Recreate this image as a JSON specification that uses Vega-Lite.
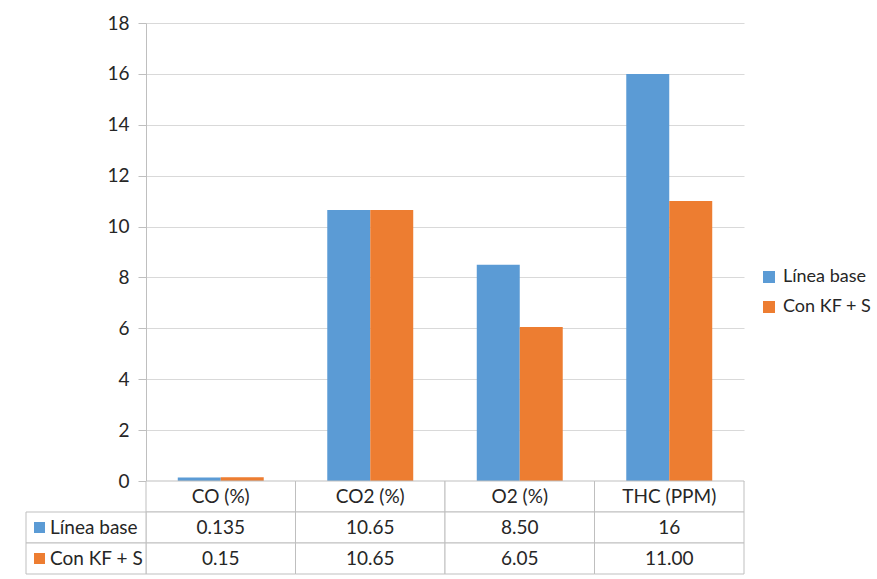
{
  "$schema": "https://vega.github.io/schema/vega-lite/v6.json",
  "padding": {"left": 25, "top": 14, "right": 0, "bottom": 4},
  "background": "white",
  "config": {"view": {"stroke": null}, "font": "Lato"},
  "bounds": "flush",
  "spacing": 0,
  "datasets": {
    "bars": [
      {"category": "CO (%)", "series": "Línea base", "value": 0.135},
      {"category": "CO (%)", "series": "Con KF + S", "value": 0.15},
      {"category": "CO2 (%)", "series": "Línea base", "value": 10.65},
      {"category": "CO2 (%)", "series": "Con KF + S", "value": 10.65},
      {"category": "O2 (%)", "series": "Línea base", "value": 8.5},
      {"category": "O2 (%)", "series": "Con KF + S", "value": 6.05},
      {"category": "THC (PPM)", "series": "Línea base", "value": 16},
      {"category": "THC (PPM)", "series": "Con KF + S", "value": 11}
    ],
    "table": [
      {"category": "CO (%)", "row": "header", "text": "CO (%)"},
      {"category": "CO2 (%)", "row": "header", "text": "CO2 (%)"},
      {"category": "O2 (%)", "row": "header", "text": "O2 (%)"},
      {"category": "THC (PPM)", "row": "header", "text": "THC (PPM)"},
      {"category": "CO (%)", "row": "Línea base", "text": "0.135"},
      {"category": "CO2 (%)", "row": "Línea base", "text": "10.65"},
      {"category": "O2 (%)", "row": "Línea base", "text": "8.50"},
      {"category": "THC (PPM)", "row": "Línea base", "text": "16"},
      {"category": "CO (%)", "row": "Con KF + S", "text": "0.15"},
      {"category": "CO2 (%)", "row": "Con KF + S", "text": "10.65"},
      {"category": "O2 (%)", "row": "Con KF + S", "text": "6.05"},
      {"category": "THC (PPM)", "row": "Con KF + S", "text": "11.00"}
    ],
    "rowlabels": [
      {"col": "label", "row": "Línea base", "series": "Línea base"},
      {"col": "label", "row": "Con KF + S", "series": "Con KF + S"}
    ]
  },
  "vconcat": [
    {
      "width": 598,
      "height": 458,
      "data": {"name": "bars"},
      "mark": {"type": "bar"},
      "encoding": {
        "x": {
          "field": "category",
          "type": "nominal",
          "sort": null,
          "scale": {"paddingInner": 0.425, "paddingOuter": 0.2125},
          "axis": null
        },
        "xOffset": {"field": "series", "type": "nominal", "sort": ["Línea base", "Con KF + S"]},
        "y": {
          "field": "value",
          "type": "quantitative",
          "scale": {"domain": [0, 18], "nice": false},
          "axis": {
            "values": [0, 2, 4, 6, 8, 10, 12, 14, 16, 18],
            "title": null,
            "grid": true,
            "gridColor": "#d9d9d9",
            "domainColor": "#bfbfbf",
            "tickColor": "#bfbfbf",
            "tickSize": 8,
            "labelFontSize": 19,
            "labelColor": "#262626",
            "labelPadding": 9
          }
        },
        "color": {
          "field": "series",
          "type": "nominal",
          "scale": {"domain": ["Línea base", "Con KF + S"], "range": ["#5B9BD5", "#ED7D31"]},
          "legend": {
            "title": null,
            "orient": "none",
            "legendX": 612,
            "legendY": 243,
            "padding": 2,
            "symbolType": "square",
            "symbolSize": 144,
            "symbolStrokeWidth": 0,
            "labelFontSize": 18,
            "labelColor": "#262626",
            "rowPadding": 12,
            "labelOffset": 5
          }
        }
      }
    },
    {
      "width": 598,
      "height": 93,
      "resolve": {"scale": {"x": "independent"}},
      "layer": [
        {
          "data": {"name": "table"},
          "mark": {"type": "rect", "fill": "white", "stroke": "#bfbfbf", "strokeWidth": 1},
          "encoding": {
            "x": {"field": "category", "type": "nominal", "sort": null, "scale": {"paddingInner": 0, "paddingOuter": 0}, "axis": null},
            "y": {"field": "row", "type": "nominal", "scale": {"domain": ["header", "Línea base", "Con KF + S"], "paddingInner": 0, "paddingOuter": 0}, "axis": null}
          }
        },
        {
          "data": {"name": "table"},
          "mark": {"type": "text", "fontSize": 19, "color": "#262626"},
          "encoding": {
            "x": {"field": "category", "type": "nominal", "sort": null, "scale": {"paddingInner": 0, "paddingOuter": 0}, "axis": null},
            "y": {"field": "row", "type": "nominal", "scale": {"domain": ["header", "Línea base", "Con KF + S"], "paddingInner": 0, "paddingOuter": 0}, "axis": null},
            "text": {"field": "text"}
          }
        },
        {
          "data": {"name": "rowlabels"},
          "mark": {"type": "rect", "fill": "white", "stroke": "#bfbfbf", "strokeWidth": 1},
          "encoding": {
            "x": {"field": "col", "type": "nominal", "scale": {"domain": ["label"], "range": [-120, 0], "paddingInner": 0, "paddingOuter": 0}, "axis": null},
            "y": {"field": "row", "type": "nominal", "scale": {"domain": ["header", "Línea base", "Con KF + S"], "paddingInner": 0, "paddingOuter": 0}, "axis": null}
          }
        },
        {
          "data": {"name": "rowlabels"},
          "mark": {"type": "point", "shape": "square", "filled": true, "opacity": 1, "size": 121, "xOffset": -46.5},
          "encoding": {
            "x": {"field": "col", "type": "nominal", "scale": {"domain": ["label"], "range": [-120, 0], "paddingInner": 0, "paddingOuter": 0}, "axis": null},
            "y": {"field": "row", "type": "nominal", "scale": {"domain": ["header", "Línea base", "Con KF + S"], "paddingInner": 0, "paddingOuter": 0}, "axis": null},
            "color": {"field": "series", "type": "nominal", "legend": null}
          }
        },
        {
          "data": {"name": "rowlabels"},
          "mark": {"type": "text", "fontSize": 19, "color": "#262626", "align": "left", "dx": -36},
          "encoding": {
            "x": {"field": "col", "type": "nominal", "scale": {"domain": ["label"], "range": [-120, 0], "paddingInner": 0, "paddingOuter": 0}, "axis": null},
            "y": {"field": "row", "type": "nominal", "scale": {"domain": ["header", "Línea base", "Con KF + S"], "paddingInner": 0, "paddingOuter": 0}, "axis": null},
            "text": {"field": "row"}
          }
        }
      ]
    }
  ]
}
